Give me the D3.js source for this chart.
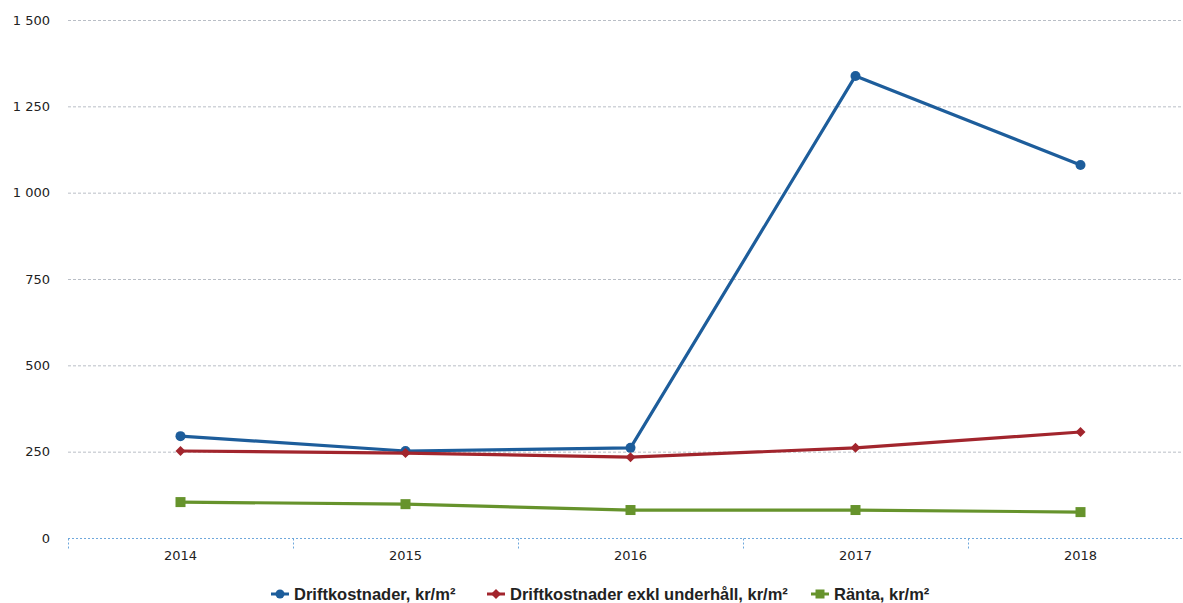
<html>
  <head>
    <script src="https://cdnjs.cloudflare.com/ajax/libs/d3/7.8.5/d3.min.js"></script>
    <style>
      body { margin: 0; background: #fff; }
      text { font-family: "DejaVu Sans", sans-serif; }
    </style>
  </head>
  <body>
    <div id="chart"></div>
    <script>
      var years = ["2014", "2015", "2016", "2017", "2018"];
      var drift = [295, 252, 261, 1338, 1080];
      var driftExkl = [252, 246, 234, 261, 307];
      var ranta = [104, 98, 81, 81, 75];
      var yTicks = [0, 250, 500, 750, 1000, 1250, 1500];

      var series = [
        { name: "Driftkostnader, kr/m²", values: drift, color: "#1d5d9b", marker: "circle" },
        { name: "Driftkostnader exkl underhåll, kr/m²", values: driftExkl, color: "#a2252d", marker: "diamond" },
        { name: "Ränta, kr/m²", values: ranta, color: "#66932c", marker: "square" }
      ];

      var width = 1183, height = 603;
      var mLeft = 68, mRight = 1193, mTop = 20, mBottom = 538;

      var svg = d3.select("#chart").append("svg")
        .attr("width", width)
        .attr("height", height);

      var x = d3.scaleBand().domain(years).range([mLeft, mRight]);
      var y = d3.scaleLinear().domain([0, 1500]).range([mBottom, mTop]);

      // gridlines
      svg.append("g").selectAll("line")
        .data(yTicks.filter(function(d) { return d > 0; }))
        .enter().append("line")
        .attr("x1", mLeft).attr("x2", width)
        .attr("y1", function(d) { return y(d) + 0.5; })
        .attr("y2", function(d) { return y(d) + 0.5; })
        .attr("stroke", "#b9bec6")
        .attr("stroke-width", 1)
        .attr("stroke-dasharray", "3,2");

      // y labels
      var fmt = function(d) { return d3.format(",")(d).replace(",", " "); };
      svg.append("g").selectAll("text")
        .data(yTicks)
        .enter().append("text")
        .attr("x", 50)
        .attr("y", function(d) { return y(d); })
        .attr("dy", "0.35em")
        .attr("text-anchor", "end")
        .attr("font-size", 13)
        .attr("fill", "#222")
        .text(fmt);

      // x axis
      var xAxis = d3.axisBottom(x).tickSize(0).tickPadding(12);
      var gx = svg.append("g")
        .attr("transform", "translate(0," + (mBottom + 0.5) + ")")
        .call(xAxis);
      gx.select(".domain")
        .attr("stroke", "#6fa8dc")
        .attr("stroke-dasharray", "2,2")
        .attr("d", "M" + mLeft + ",0H" + width);
      gx.selectAll("text").attr("font-size", 13).attr("fill", "#222")
        .style("font-family", "DejaVu Sans, sans-serif");
      gx.selectAll(".sep")
        .data(years.concat(["end"]))
        .enter().append("line")
        .attr("class", "sep")
        .attr("x1", function(d, i) { return mLeft + i * x.bandwidth() + 0.5; })
        .attr("x2", function(d, i) { return mLeft + i * x.bandwidth() + 0.5; })
        .attr("y1", 0).attr("y2", 12)
        .attr("stroke", "#6fa8dc")
        .attr("stroke-dasharray", "2,2");

      var cx = function(i) { return x(years[i]) + x.bandwidth() / 2; };

      var line = d3.line()
        .x(function(d, i) { return cx(i); })
        .y(function(d) { return y(d); });

      function drawMarker(g, type, color, px, py, s) {
        if (type == "circle") {
          g.append("circle").attr("cx", px).attr("cy", py).attr("r", s)
            .attr("fill", color);
        } else if (type == "diamond") {
          g.append("path")
            .attr("d", "M0," + (-s) + "L" + s + ",0L0," + s + "L" + (-s) + ",0Z")
            .attr("transform", "translate(" + px + "," + py + ")")
            .attr("fill", color);
        } else {
          g.append("rect").attr("x", px - s).attr("y", py - s)
            .attr("width", s * 2).attr("height", s * 2)
            .attr("fill", color);
        }
      }

      series.forEach(function(s) {
        var g = svg.append("g");
        g.append("path")
          .datum(s.values)
          .attr("fill", "none")
          .attr("stroke", s.color)
          .attr("stroke-width", 3.2)
          .attr("stroke-linejoin", "round")
          .attr("d", line);
        s.values.forEach(function(v, i) {
          var size = s.marker == "circle" ? 5 : (s.marker == "diamond" ? 5 : 5);
          drawMarker(g, s.marker, s.color, cx(i), y(v), size);
        });
      });

      // legend
      var legend = svg.append("g").attr("transform", "translate(0,594)");
      var lx = [271, 487, 811];
      series.forEach(function(s, i) {
        var g = legend.append("g").attr("transform", "translate(" + lx[i] + ",0)");
        g.append("line").attr("x1", 0).attr("x2", 18).attr("y1", 0).attr("y2", 0)
          .attr("stroke", s.color).attr("stroke-width", 3);
        drawMarker(g, s.marker, s.color, 9, 0, s.marker == "diamond" ? 5 : 4.5);
        g.append("text")
          .attr("x", 23).attr("y", 0).attr("dy", "0.35em")
          .attr("font-size", 16.5)
          .attr("font-weight", "bold")
          .attr("fill", "#222")
          .style("font-family", "Liberation Sans Narrow, sans-serif")
          .text(s.name);
      });
    </script>
  </body>
</html>
